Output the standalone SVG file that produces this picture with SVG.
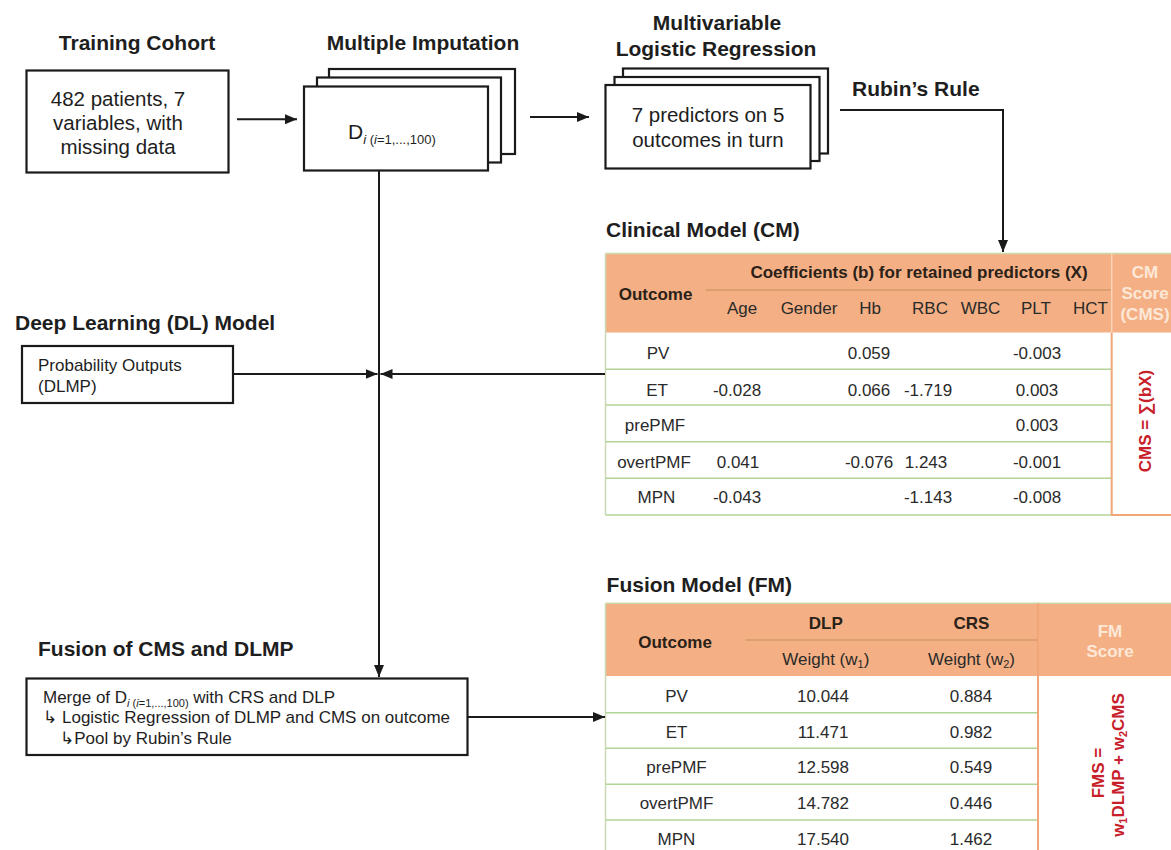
<svg xmlns="http://www.w3.org/2000/svg" width="1171" height="850" viewBox="0 0 1171 850">
<defs>
<style>
text{font-family:"Liberation Sans",Arial,"DejaVu Sans",sans-serif;fill:#1e1e1e}
.t{font-size:21px;font-weight:bold}
.b{font-size:20.5px}
.s{font-size:17px}
.m{text-anchor:middle}
.hb{font-size:17px;font-weight:bold;fill:#2a2118}
.hw{font-size:17px;font-weight:bold;fill:#fde8d8;text-anchor:middle}
.td{font-size:17px;fill:#2a2a2a;text-anchor:middle}
.red{font-size:17px;font-weight:bold;fill:#c8202a;text-anchor:middle}
.box{fill:#fff;stroke:#1a1a1a;stroke-width:2.2}
.ln{fill:none;stroke:#1a1a1a;stroke-width:2}
.hdr{fill:#f4b084}
.row{stroke:#b2d396;stroke-width:1.5}
.org{stroke:#f0a676;stroke-width:2;fill:none}
</style>
<marker id="ah" markerUnits="userSpaceOnUse" markerWidth="13" markerHeight="11" refX="12" refY="5" orient="auto">
<path d="M0,0 L12,5 L0,10 z" fill="#1a1a1a"/>
</marker>
</defs>
<rect width="1171" height="850" fill="#fff"/>

<g id="training">
<text class="t m" x="137" y="50">Training Cohort</text>
<rect class="box" x="26.5" y="70.5" width="202" height="102"/>
<text class="b m" x="118" y="106">482 patients, 7</text>
<text class="b m" x="118" y="130">variables, with</text>
<text class="b m" x="118" y="154">missing data</text>
</g>

<g id="imputation">
<text class="t m" x="423" y="50">Multiple Imputation</text>
<rect class="box" x="329" y="69" width="186" height="85"/>
<rect class="box" x="317" y="77.5" width="184" height="85"/>
<rect class="box" x="304" y="86.5" width="184" height="84"/>
<text x="348" y="139" style="font-size:21px">D<tspan dy="5" style="font-size:13px;font-style:italic">i</tspan><tspan style="font-size:13px"> (<tspan style="font-style:italic">i</tspan>=1,...,100)</tspan></text>
</g>

<g id="regression">
<text class="t m" x="717" y="30">Multivariable</text>
<text class="t m" x="716" y="56">Logistic Regression</text>
<rect class="box" x="623" y="68.5" width="205" height="85"/>
<rect class="box" x="614.5" y="77" width="205" height="84"/>
<rect class="box" x="605.5" y="85" width="205" height="83.5"/>
<text class="b m" x="708" y="122">7 predictors on 5</text>
<text class="b m" x="708" y="147">outcomes in turn</text>
<text class="t" x="852" y="96">Rubin’s Rule</text>
</g>

<g id="dl-model">
<text class="t" x="15" y="330">Deep Learning (DL) Model</text>
<rect class="box" x="22" y="346" width="211" height="57"/>
<text class="s" x="38" y="371">Probability Outputs</text>
<text class="s" x="38" y="392">(DLMP)</text>
</g>

<g id="fusion">
<text class="t" x="38" y="656">Fusion of CMS and DLMP</text>
<rect class="box" x="26.5" y="678.5" width="441" height="76.5"/>
<text class="s" x="43" y="703">Merge of D<tspan dy="4" style="font-size:11px;font-style:italic">i</tspan><tspan dy="0" style="font-size:11px"> (<tspan style="font-style:italic">i</tspan>=1,...,100)</tspan><tspan dy="-4"> with CRS and DLP</tspan></text>
<text class="s" x="43" y="723">↳ Logistic Regression of DLMP and CMS on outcome</text>
<text class="s" x="60" y="744">↳Pool by Rubin’s Rule</text>
</g>

<g id="clinical-model">
<text class="t" x="606" y="237">Clinical Model (CM)</text>
<rect class="hdr" x="605.5" y="253.5" width="570" height="79"/>
<line x1="605.5" y1="253.5" x2="1171" y2="253.5" stroke="#cbd9a8" stroke-width="1.5"/>
<line x1="705.6" y1="290" x2="1111" y2="290" stroke="#d49b68" stroke-width="1.5"/>
<line x1="1111.7" y1="253.5" x2="1111.7" y2="332.7" stroke="#fad2b6" stroke-width="1.5"/>
<line x1="605.5" y1="253.5" x2="605.5" y2="515" stroke="#c9d9b4" stroke-width="1.5"/>
<line class="row" x1="605.5" y1="369.3" x2="1111" y2="369.3"/>
<line class="row" x1="605.5" y1="405" x2="1111" y2="405"/>
<line class="row" x1="605.5" y1="441.7" x2="1111" y2="441.7"/>
<line class="row" x1="605.5" y1="478.3" x2="1111" y2="478.3"/>
<line class="row" x1="605.5" y1="515" x2="1111" y2="515"/>
<path class="org" d="M1111.7,332.7 V515 H1175"/>
<text class="hb" x="919" y="278" text-anchor="middle">Coefficients (b) for retained predictors (X)</text>
<text class="hb" x="655.6" y="300" text-anchor="middle">Outcome</text>
<text class="td" x="742" y="314">Age</text>
<text class="td" x="809" y="314">Gender</text>
<text class="td" x="870" y="314">Hb</text>
<text class="td" x="930" y="314">RBC</text>
<text class="td" x="980.5" y="314">WBC</text>
<text class="td" x="1036" y="314">PLT</text>
<text class="td" x="1090.5" y="314">HCT</text>
<text class="hw" x="1145" y="278">CM</text>
<text class="hw" x="1145" y="299">Score</text>
<text class="hw" x="1145" y="320">(CMS)</text>
<text class="td" x="658" y="359">PV</text>
<text class="td" x="869" y="359">0.059</text>
<text class="td" x="1037" y="359">-0.003</text>
<text class="td" x="657" y="396">ET</text>
<text class="td" x="737" y="396">-0.028</text>
<text class="td" x="869" y="396">0.066</text>
<text class="td" x="928" y="396">-1.719</text>
<text class="td" x="1037" y="396">0.003</text>
<text class="td" x="655" y="431">prePMF</text>
<text class="td" x="1037" y="431">0.003</text>
<text class="td" x="654" y="468">overtPMF</text>
<text class="td" x="738" y="468">0.041</text>
<text class="td" x="869" y="468">-0.076</text>
<text class="td" x="926" y="468">1.243</text>
<text class="td" x="1037" y="468">-0.001</text>
<text class="td" x="656.5" y="503">MPN</text>
<text class="td" x="737" y="503">-0.043</text>
<text class="td" x="928" y="503">-1.143</text>
<text class="td" x="1037" y="503">-0.008</text>
<text class="red" transform="translate(1145,421) rotate(-90)" x="0" y="6">CMS = ∑(bX)</text>
</g>

<g id="fusion-model">
<text class="t" x="606.6" y="592">Fusion Model (FM)</text>
<rect class="hdr" x="605.5" y="603.3" width="570" height="72.7"/>
<line x1="605.5" y1="603.3" x2="1171" y2="603.3" stroke="#cbd9a8" stroke-width="1.5"/>
<line x1="745.7" y1="640" x2="1037" y2="640" stroke="#d49b68" stroke-width="1.5"/>
<line x1="605.5" y1="603.3" x2="605.5" y2="850" stroke="#c9d9b4" stroke-width="1.5"/>
<line class="row" x1="605.5" y1="712.7" x2="1037" y2="712.7"/>
<line class="row" x1="605.5" y1="748.3" x2="1037" y2="748.3"/>
<line class="row" x1="605.5" y1="784.3" x2="1037" y2="784.3"/>
<line class="row" x1="605.5" y1="820" x2="1037" y2="820"/>
<line class="org" x1="1038" y1="603.3" x2="1038" y2="850"/>
<text class="hb" x="825.8" y="629" text-anchor="middle">DLP</text>
<text class="hb" x="971.5" y="629" text-anchor="middle">CRS</text>
<text class="hb" x="675" y="648" text-anchor="middle">Outcome</text>
<text class="td" x="825.8" y="665">Weight (w<tspan dy="3" style="font-size:11px">1</tspan><tspan dy="-3">)</tspan></text>
<text class="td" x="971.5" y="665">Weight (w<tspan dy="3" style="font-size:11px">2</tspan><tspan dy="-3">)</tspan></text>
<text class="hw" x="1110" y="637">FM</text>
<text class="hw" x="1110" y="657">Score</text>
<text class="td" x="676.5" y="702">PV</text>
<text class="td" x="823" y="702">10.044</text>
<text class="td" x="971" y="702">0.884</text>
<text class="td" x="676.5" y="738">ET</text>
<text class="td" x="823" y="738">11.471</text>
<text class="td" x="971" y="738">0.982</text>
<text class="td" x="676.5" y="773">prePMF</text>
<text class="td" x="823" y="773">12.598</text>
<text class="td" x="971" y="773">0.549</text>
<text class="td" x="676.5" y="809">overtPMF</text>
<text class="td" x="823" y="809">14.782</text>
<text class="td" x="971" y="809">0.446</text>
<text class="td" x="676.5" y="845">MPN</text>
<text class="td" x="823" y="845">17.540</text>
<text class="td" x="971" y="845">1.462</text>
<g transform="translate(1108,765) rotate(-90)">
<text class="red" x="-8" y="-4">FMS =</text>
<text class="red" x="0" y="16">w<tspan dy="3" style="font-size:11px">1</tspan><tspan dy="-3">DLMP + w</tspan><tspan dy="3" style="font-size:11px">2</tspan><tspan dy="-3">CMS</tspan></text>
</g>
</g>

<g id="connectors">
<line class="ln" x1="237" y1="119.3" x2="297" y2="119.3" marker-end="url(#ah)"/>
<line class="ln" x1="530" y1="117" x2="589" y2="117" marker-end="url(#ah)"/>
<polyline class="ln" points="840,110 1003,110 1003,252" marker-end="url(#ah)"/>
<line class="ln" x1="379" y1="170" x2="379" y2="677" marker-end="url(#ah)"/>
<line class="ln" x1="233" y1="374" x2="377.5" y2="374" marker-end="url(#ah)"/>
<line class="ln" x1="605" y1="374" x2="380.5" y2="374" marker-end="url(#ah)"/>
<line class="ln" x1="467" y1="717" x2="605" y2="717" marker-end="url(#ah)"/>
</g>
</svg>
